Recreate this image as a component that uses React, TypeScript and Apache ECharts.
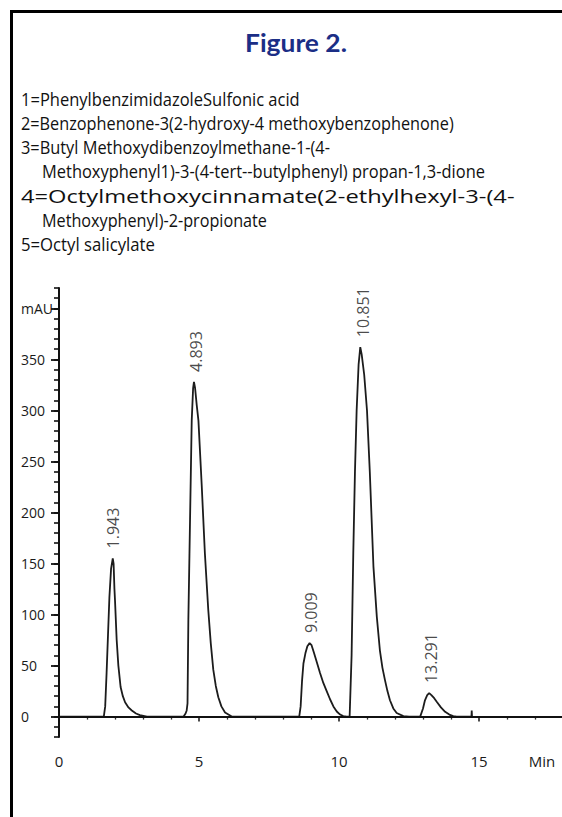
import React, { useEffect, useRef } from "react";
import * as echarts from "echarts";

// ---- data ----
const baselineStart: [number, number][] = [[0, 0], [1.6, 0]];
const peak1Trace: [number, number][] = [
  [1.65, 10], [1.7, 43], [1.75, 80], [1.8, 117], [1.86, 145], [1.92, 155], [1.95, 150],
  [1.98, 125], [2.0, 114], [2.06, 75], [2.12, 50], [2.2, 29], [2.28, 20], [2.36, 14],
  [2.48, 9], [2.6, 6], [2.75, 3], [2.89, 1.5], [3.14, 0],
];
const peak2Trace: [number, number][] = [
  [4.45, 0], [4.52, 3], [4.56, 6], [4.59, 13], [4.62, 95], [4.68, 193], [4.74, 290],
  [4.79, 322], [4.82, 328], [4.86, 322], [4.92, 305], [4.98, 290], [5.1, 225], [5.21, 160],
  [5.33, 105], [5.42, 72], [5.51, 46], [5.6, 30], [5.69, 19], [5.8, 10], [5.93, 4], [6.17, 0],
];
const peak3Trace: [number, number][] = [
  [8.58, 0], [8.63, 10], [8.68, 35], [8.73, 52], [8.8, 62], [8.87, 69], [8.95, 72],
  [9.02, 70], [9.1, 63], [9.2, 54], [9.32, 43], [9.44, 33], [9.56, 25], [9.68, 17],
  [9.8, 10], [9.92, 5], [10.04, 2], [10.15, 0.5], [10.27, 0],
];
const peak4Trace: [number, number][] = [
  [10.38, 0], [10.45, 60], [10.51, 160], [10.57, 240], [10.63, 300], [10.7, 345],
  [10.76, 362], [10.81, 355], [10.9, 335], [11.0, 300], [11.1, 240], [11.23, 147],
  [11.35, 98], [11.46, 65], [11.55, 48], [11.64, 36], [11.73, 25], [11.82, 16],
  [11.94, 8], [12.06, 3.5], [12.3, 0.5], [12.5, 0],
];
const peak5Trace: [number, number][] = [
  [12.9, 0], [13.0, 8], [13.07, 16], [13.15, 21], [13.22, 23], [13.3, 21], [13.4, 18],
  [13.49, 14.5], [13.64, 9], [13.79, 4.7], [13.94, 2], [14.08, 0.5], [14.2, 0],
  [14.73, 0], [14.74, 6], [14.75, 0],
];

const peakRT = ["1.943", "4.893", "9.009", "10.851", "13.291"];
const peakHeight = [155, 328, 72, 362, 23];

const yTickValues = [0, 50, 100, 150, 200, 250, 300, 350, 400];
const yTickLabels = ["0", "50", "100", "150", "200", "250", "300", "350", "mAU"];
const xTickLabels = ["0", "5", "10", "15"];
const xUnit = "Min";

const titleText = "Figure 2.";
const legendLines = [
  "1=PhenylbenzimidazoleSulfonic acid",
  "2=Benzophenone-3(2-hydroxy-4 methoxybenzophenone)",
  "3=Butyl Methoxydibenzoylmethane-1-(4-",
  "Methoxyphenyl1)-3-(4-tert--butylphenyl) propan-1,3-dione",
  "4=Octylmethoxycinnamate(2-ethylhexyl-3-(4-",
  "Methoxyphenyl)-2-propionate",
  "5=Octyl salicylate",
];

// layout of the legend lines: [left x, centre y, target width]
const legendLayout: [number, number, number][] = [
  [21, 99, 279],
  [21, 123, 433],
  [21, 147, 309],
  [42, 171, 443],
  [21, 196, 494],
  [42, 220, 225],
  [21, 244, 134],
];

const TEXT_FONT = '"Open Sans", sans-serif';

function measure(text: string, font: string): number {
  const c = document.createElement("canvas");
  const ctx = c.getContext("2d");
  if (!ctx) return text.length * 8;
  ctx.font = font;
  return ctx.measureText(text).width;
}

export default function App() {
  const ref = useRef<HTMLDivElement>(null);

  useEffect(() => {
    if (!ref.current) return;
    const chart = echarts.init(ref.current, undefined, { renderer: "svg" });

    const trace = [
      ...baselineStart,
      ...peak1Trace,
      ...peak2Trace,
      ...peak3Trace,
      ...peak4Trace,
      ...peak5Trace,
    ];

    const legendFont = `18px ${TEXT_FONT}`;
    const legendGraphics = legendLines.map((t, i) => {
      const [lx, ly, tw] = legendLayout[i];
      const w = measure(t, legendFont);
      return {
        type: "text",
        x: lx,
        y: ly,
        scaleX: tw / w,
        silent: true,
        style: {
          text: t,
          x: 0,
          y: 0,
          font: legendFont,
          fill: "#111",
          textAlign: "left",
          textVerticalAlign: "middle",
          verticalAlign: "middle",
        },
      };
    });

    const titleFont = `bold 25px Lato, sans-serif`;
    const titleW = measure(titleText, titleFont);

    const option: any = {
      animation: false,
      backgroundColor: "#ffffff",
      grid: {
        left: 59,
        top: 288,
        width: 560,
        height: 449,
        containLabel: false,
        outerBoundsMode: "none",
      },
      xAxis: {
        type: "value",
        min: 0,
        max: 20,
        interval: 5,
        axisLine: { show: true, lineStyle: { color: "#111", width: 2 } },
        axisTick: { show: true, length: 5, lineStyle: { color: "#111", width: 1.5 } },
        minorTick: { show: true, splitNumber: 5, length: 3, lineStyle: { color: "#333", width: 1.3 } },
        splitLine: { show: false },
        axisLabel: {
          margin: 16,
          fontSize: 15,
          fontFamily: TEXT_FONT,
          color: "#1a1a1a",
          formatter: (v: number) => {
            const s = String(v);
            return xTickLabels.indexOf(s) >= 0 ? s : "";
          },
        },
      },
      yAxis: [
        {
          type: "value",
          min: -20,
          max: 420,
          interval: 10,
          position: "left",
          axisLine: { show: true, lineStyle: { color: "#111", width: 2 } },
          axisTick: { show: true, length: 5, lineStyle: { color: "#111", width: 1.6 } },
          splitLine: { show: false },
          axisLabel: {
            align: "left",
            margin: 38,
            fontSize: 14,
            fontFamily: TEXT_FONT,
            color: "#1a1a1a",
            formatter: (v: number) => {
              const idx = yTickValues.indexOf(v);
              return idx >= 0 ? yTickLabels[idx] : "";
            },
          },
        },
        {
          type: "value",
          min: -20,
          max: 420,
          position: "left",
          offset: 0,
          axisLine: { show: false },
          axisTick: { show: true, length: 8, customValues: yTickValues, lineStyle: { color: "#111", width: 1.8 } },
          axisLabel: { show: false },
          splitLine: { show: false },
        },
      ],
      series: [
        {
          type: "line",
          data: trace,
          yAxisIndex: 0,
          showSymbol: false,
          symbol: "none",
          lineStyle: { color: "#1c1c1c", width: 1.8 },
          markLine: {
            silent: true,
            symbol: ["none", "none"],
            label: { show: false },
            lineStyle: { color: "#111", width: 2, type: "solid" },
            data: [{ yAxis: 0 }],
          },
          z: 3,
        },
        {
          type: "scatter",
          yAxisIndex: 0,
          symbolSize: 0,
          data: peakRT.map((rt, i) => [parseFloat(rt), peakHeight[i]]),
          label: {
            show: true,
            position: "top",
            distance: 10,
            rotate: 90,
            align: "left",
            verticalAlign: "middle",
            fontSize: 16,
            fontFamily: TEXT_FONT,
            color: "#1a1a1a",
            formatter: (p: any) => peakRT[p.dataIndex],
          },
        },
      ],
      graphic: [
        {
          type: "line",
          silent: true,
          shape: { x1: 11.5, y1: 10, x2: 11.5, y2: 817 },
          style: { stroke: "#000", lineWidth: 3 },
        },
        {
          type: "line",
          silent: true,
          shape: { x1: 10, y1: 11.5, x2: 562, y2: 11.5 },
          style: { stroke: "#000", lineWidth: 3 },
        },
        {
          type: "text",
          x: 245,
          y: 42,
          scaleX: 102 / titleW,
          silent: true,
          style: {
            text: titleText,
            x: 0,
            y: 0,
            font: titleFont,
            fill: "#1b2e86",
            textAlign: "left",
            textVerticalAlign: "middle",
            verticalAlign: "middle",
          },
        },
        ...legendGraphics,
        {
          type: "text",
          x: 542,
          y: 761,
          silent: true,
          style: {
            text: xUnit,
            x: 0,
            y: 0,
            font: `15px ${TEXT_FONT}`,
            fill: "#1a1a1a",
            textAlign: "center",
            textVerticalAlign: "middle",
            verticalAlign: "middle",
          },
        },
      ],
    };

    chart.setOption(option);
    return () => chart.dispose();
  }, []);

  return (
    <div
      ref={ref}
      style={{ position: "fixed", left: 0, top: 0, width: 562, height: 817, background: "#fff" }}
    />
  );
}
